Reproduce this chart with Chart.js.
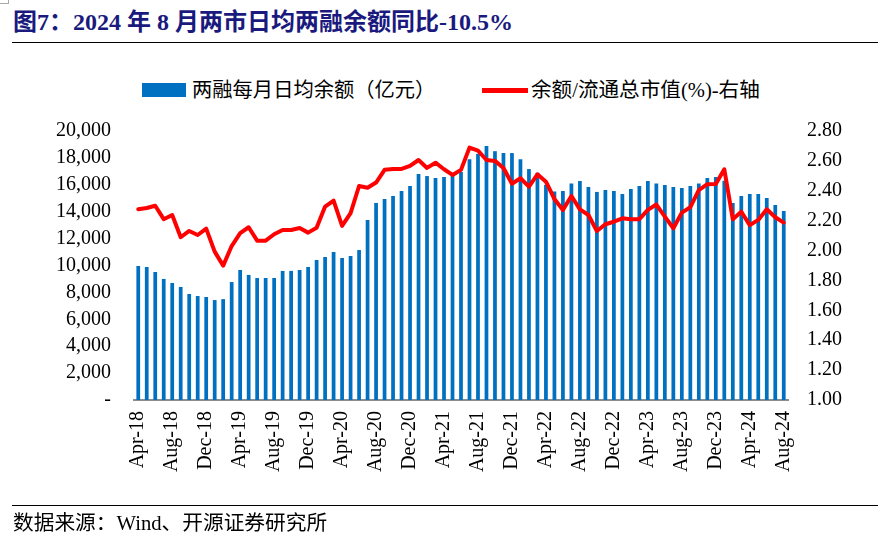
<!DOCTYPE html>
<html><head><meta charset="utf-8">
<script src="https://cdn.jsdelivr.net/npm/chart.js@4.4.1/dist/chart.umd.min.js"></script>
<style>
html,body{margin:0;padding:0;background:#fff;width:885px;height:535px;overflow:hidden;}
#wrap{position:relative;width:885px;height:535px;}
#c{position:absolute;left:0;top:0;}
.t{position:absolute;white-space:nowrap;font-family:"Liberation Serif","Noto Sans CJK SC",serif;color:#000;line-height:1;}
#title{left:13px;top:10px;font-size:24px;font-weight:bold;color:#1a1a7e;}
.rule{position:absolute;left:12px;width:866px;height:1px;background:#000;}
#corner{position:absolute;left:0;top:0;width:8px;height:3px;border-right:1px solid #aaa;border-bottom:1px solid #aaa;}
.sw{position:absolute;}
</style>
</head><body>
<div id="wrap">
  <div id="corner"></div>
  <div class="t" id="title">图7：2024 年 8 月两市日均两融余额同比-10.5%</div>
  <div class="rule" style="top:42px"></div>
  <div class="sw" style="left:142px;top:83px;width:44px;height:14px;background:#0070C0"></div>
  <div class="t" style="left:192px;top:80px;font-size:20.3px">两融每月日均余额（亿元）</div>
  <div class="sw" style="left:482px;top:88px;width:46px;height:5px;background:#FF0000"></div>
  <div class="t" style="left:531px;top:80px;font-size:20.6px">余额/流通总市值(%)-右轴</div>
  <canvas id="c" width="885" height="535"></canvas>
  <div class="rule" style="top:505px"></div>
  <div class="t" style="left:13px;top:513px;font-size:20.7px">数据来源：Wind、开源证券研究所</div>
</div>
<script>
const months = [
 "Apr-18","May-18","Jun-18","Jul-18","Aug-18","Sep-18","Oct-18","Nov-18","Dec-18",
 "Jan-19","Feb-19","Mar-19","Apr-19","May-19","Jun-19","Jul-19","Aug-19","Sep-19","Oct-19","Nov-19","Dec-19",
 "Jan-20","Feb-20","Mar-20","Apr-20","May-20","Jun-20","Jul-20","Aug-20","Sep-20","Oct-20","Nov-20","Dec-20",
 "Jan-21","Feb-21","Mar-21","Apr-21","May-21","Jun-21","Jul-21","Aug-21","Sep-21","Oct-21","Nov-21","Dec-21",
 "Jan-22","Feb-22","Mar-22","Apr-22","May-22","Jun-22","Jul-22","Aug-22","Sep-22","Oct-22","Nov-22","Dec-22",
 "Jan-23","Feb-23","Mar-23","Apr-23","May-23","Jun-23","Jul-23","Aug-23","Sep-23","Oct-23","Nov-23","Dec-23",
 "Jan-24","Feb-24","Mar-24","Apr-24","May-24","Jun-24","Jul-24","Aug-24"
];
// 两融每月日均余额（亿元）
const marginBalance = [
 9960,9890,9520,9000,8700,8400,7880,7730,7660,
 7430,7500,8770,9670,9300,9070,9070,9070,9600,9600,9670,9890,
 10410,10630,11000,10560,10700,11150,13380,14650,14940,15170,15540,15910,
 16800,16650,16500,16580,16800,16950,17900,18300,18880,18500,18360,18360,
 17900,17170,16900,16000,15500,15540,16100,16280,15840,15470,15610,15540,
 15320,15690,15910,16280,16100,15990,15840,15760,15910,16100,16500,16580,
 16300,14650,15170,15320,15320,15020,14500,14050
];
// 余额/流通总市值(%)
const ratio = [
 2.276,2.285,2.300,2.210,2.238,2.089,2.131,2.104,2.147,
 1.993,1.899,2.030,2.116,2.156,2.066,2.066,2.109,2.138,2.138,2.151,2.120,
 2.153,2.294,2.334,2.165,2.250,2.432,2.420,2.455,2.540,2.546,2.546,2.566,
 2.606,2.553,2.588,2.544,2.506,2.540,2.689,2.669,2.606,2.600,2.552,2.447,
 2.484,2.428,2.510,2.461,2.345,2.272,2.365,2.276,2.238,2.131,2.176,2.193,
 2.216,2.210,2.210,2.272,2.308,2.227,2.149,2.254,2.290,2.405,2.444,2.446,
 2.544,2.210,2.260,2.170,2.205,2.276,2.223,2.187
];
const leftTicks = {min:0,max:20000,step:2000};
const rightTicks = {min:1.0,max:2.8,step:0.2};

const serif = "'Liberation Serif','Noto Sans CJK SC',serif";
new Chart(document.getElementById('c'), {
  data: {
    labels: months,
    datasets: [
      {type:'line', label:'余额/流通总市值(%)-右轴', data: ratio, yAxisID:'y1',
       borderColor:'#FF0000', backgroundColor:'#FF0000', borderWidth:4, pointRadius:0,
       tension:0, borderJoinStyle:'round', borderCapStyle:'round', order:0},
      {type:'bar', label:'两融每月日均余额（亿元）', data: marginBalance, yAxisID:'y',
       backgroundColor:'#0070C0', barPercentage:0.44, categoryPercentage:1.0, order:1}
    ]
  },
  options: {
    responsive:false, animation:false, devicePixelRatio:1,
    layout:{padding:{top:131,left:0,right:0,bottom:0}},
    plugins:{legend:{display:false}, tooltip:{enabled:false}},
    scales:{
      x:{
        offset:true,
        grid:{display:false, drawTicks:false},
        border:{display:true, color:'#8c8c8c', width:2},
        ticks:{autoSkip:false, maxRotation:90, minRotation:90, padding:11,
          color:'#000', font:{family:serif, size:20},
          callback:function(v,i){ return i%4===0 ? this.getLabelForValue(v) : ''; }},
        afterFit:(s)=>{ s.height = 135; }
      },
      y:{
        position:'left', min:leftTicks.min, max:leftTicks.max,
        grid:{display:false, drawTicks:false}, border:{display:false},
        ticks:{stepSize:leftTicks.step, autoSkip:false, padding:23, color:'#000', font:{family:serif, size:20},
          callback:(v)=> v===0 ? '-' : v.toLocaleString('en-US')},
        afterFit:(s)=>{ s.width = 134; }
      },
      y1:{
        position:'right', min:rightTicks.min, max:rightTicks.max,
        grid:{display:false, drawTicks:false}, border:{display:false},
        ticks:{stepSize:rightTicks.step, autoSkip:false, padding:19, color:'#000', font:{family:serif, size:20},
          callback:(v)=> Number(v).toFixed(2)},
        afterFit:(s)=>{ s.width = 97; }
      }
    }
  }
});
</script>
</body></html>
